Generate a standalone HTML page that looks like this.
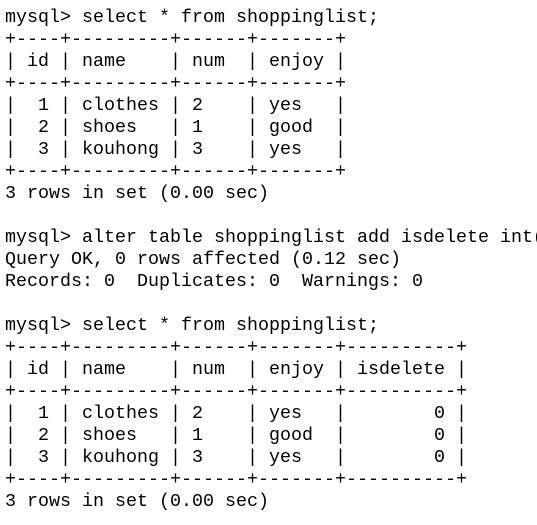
<!DOCTYPE html>
<html><head><meta charset="utf-8"><style>
html,body{margin:0;padding:0;background:#fff;}
body{width:537px;height:525px;overflow:hidden;}
pre{margin:0;padding:7px 0 0 5px;font-family:"Liberation Mono",monospace;font-size:18.33px;line-height:22px;color:#000;white-space:pre;}
</style></head><body><pre>mysql&gt; select * from shoppinglist;
+----+---------+------+-------+
| id | name    | num  | enjoy |
+----+---------+------+-------+
|  1 | clothes | 2    | yes   |
|  2 | shoes   | 1    | good  |
|  3 | kouhong | 3    | yes   |
+----+---------+------+-------+
3 rows in set (0.00 sec)

mysql&gt; alter table shoppinglist add isdelete int(
Query OK, 0 rows affected (0.12 sec)
Records: 0  Duplicates: 0  Warnings: 0

mysql&gt; select * from shoppinglist;
+----+---------+------+-------+----------+
| id | name    | num  | enjoy | isdelete |
+----+---------+------+-------+----------+
|  1 | clothes | 2    | yes   |        0 |
|  2 | shoes   | 1    | good  |        0 |
|  3 | kouhong | 3    | yes   |        0 |
+----+---------+------+-------+----------+
3 rows in set (0.00 sec)</pre></body></html>
